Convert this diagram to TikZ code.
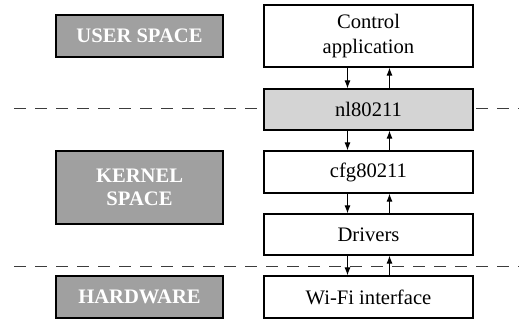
\documentclass[tikz,border=0pt]{standalone}
\usepackage{fontspec}
\setmainfont{Liberation Serif}
\usetikzlibrary{arrows.meta}
\definecolor{labelgray}{RGB}{160,160,160}
\definecolor{nlgray}{RGB}{212,212,212}
\definecolor{dashgray}{RGB}{60,60,60}
\begin{document}
\begin{tikzpicture}[x=0.5pt,y=-0.5pt,
  layer/.style={draw, line width=0.6pt, fill=white, minimum width=104.5pt, inner sep=0pt, align=center, font=\fontsize{10.3}{12.5}\selectfont},
  side/.style={draw, line width=0.6pt, fill=labelgray, text=white, minimum width=83.5pt, inner sep=0pt, align=center, font=\fontsize{10.3}{11.5}\selectfont\bfseries},
  sep/.style={dash pattern=on 6pt off 4.5pt, line width=0.5pt, dashgray},
  flow/.style={line width=0.5pt, -{Latex[length=4pt,width=3pt]}}]
\useasboundingbox (0,0) rectangle (519,322);
% separators
\coordinate (s1a) at (14,108); \coordinate (s1b) at (519,108);
\coordinate (s2a) at (14,266); \coordinate (s2b) at (519,266);
\draw[sep] (s1a) -- (s1b);
\draw[sep] (s2a) -- (s2b);
% layers
\node[layer, minimum height=31pt] (ctl) at (368.5,36) {Control\\application};
\node[layer, minimum height=20.5pt, fill=nlgray] (nl) at (368.5,109.5) {nl80211};
\node[layer, minimum height=21pt] (cfg) at (368.5,172) {cfg80211};
\node[layer, minimum height=20.5pt] (drv) at (368.5,234.5) {Drivers};
\node[layer, minimum height=21pt] (wifi) at (368.5,297) {Wi-Fi interface};
% side labels
\node[side, minimum height=21pt] (us) at (139.5,36) {USER SPACE};
\node[side, minimum height=36.5pt] (ks) at (139.5,187.5) {KERNEL\\SPACE};
\node[side, minimum height=21pt] (hw) at (139.5,297) {HARDWARE};
% arrows
\foreach \a/\b in {ctl/nl, nl/cfg, cfg/drv, drv/wifi}{
  \draw[flow] ([xshift=-10.5pt]\a.south) -- ([xshift=-10.5pt]\b.north);
  \draw[flow] ([xshift=10.5pt]\b.north) -- ([xshift=10.5pt]\a.south);
}
\end{tikzpicture}
\end{document}
